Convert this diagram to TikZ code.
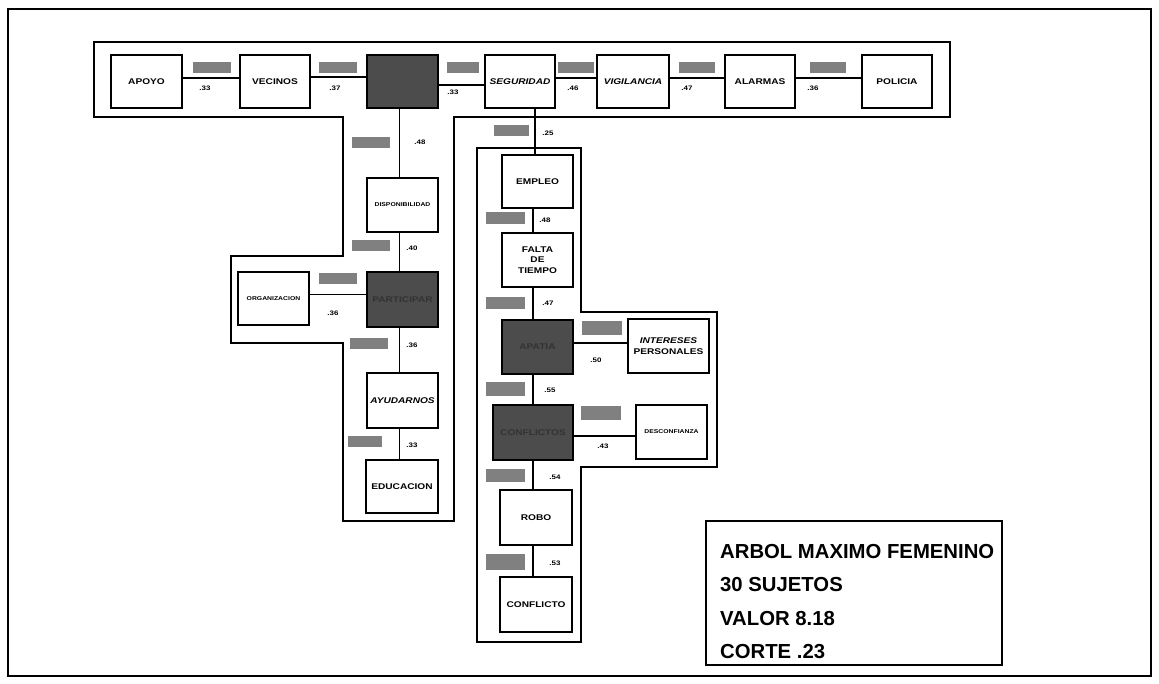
\documentclass[tikz,border=0pt]{standalone}
\usepackage{fontspec}
\setmainfont{Liberation Sans}
\newfontfamily\bx[FakeStretch=1.22]{Liberation Sans}
\begin{document}
\begin{tikzpicture}[x=1pt,y=-1pt,
  wbox/.style={draw,line width=1.4pt,fill=white,inner sep=1pt,align=center,
    minimum width=71pt,minimum height=53pt,
    font=\bx\bfseries\fontsize{8.3}{10.5}\selectfont},
  small/.style={font=\bx\bfseries\fontsize{5.6}{7}\selectfont},
  dbox/.style={wbox,fill=black!70,text=black!80},
  glab/.style={fill=black!50,minimum width=38pt,minimum height=11pt,inner sep=0pt},
  val/.style={font=\bx\bfseries\fontsize{6.5}{7}\selectfont,inner sep=0pt},
  encl/.style={line width=1.2pt},
  conn/.style={line width=1.1pt},
  legtxt/.style={font=\bfseries\fontsize{20.3}{22}\selectfont,anchor=west,inner sep=0pt}]

\useasboundingbox (0,0) rectangle (1159,683);
\draw[line width=1.4pt] (8,9) rectangle (1151,676);

% enclosures
\draw[encl] (94,42) -- (950,42) -- (950,117) -- (454,117) -- (454,521) -- (343,521)
  -- (343,343) -- (231,343) -- (231,256) -- (343,256) -- (343,117) -- (94,117) -- cycle;
\draw[encl] (477,148) -- (581,148) -- (581,312) -- (717,312) -- (717,467) -- (581,467)
  -- (581,642) -- (477,642) -- cycle;

% top row
\node[wbox] (apoyo) at (146.5,81.5) {APOYO};
\node[wbox,minimum width=70pt] (vecinos) at (275,81.5) {VECINOS};
\node[dbox] (topd) at (402.5,81.5) {};
\node[wbox,minimum width=70pt] (seg) at (520,81.5) {\itshape SEGURIDAD};
\node[wbox,minimum width=72pt] (vig) at (633,81.5) {\itshape VIGILANCIA};
\node[wbox,minimum width=70pt] (alar) at (760,81.5) {ALARMAS};
\node[wbox,minimum width=70pt] (pol) at (897,81.5) {POLICIA};

% left branch
\node[wbox,minimum height=54pt,small] (disp) at (402.5,205) {DISPONIBILIDAD};
\node[dbox,minimum height=55pt] (part) at (402.5,299.5) {PARTICIPAR};
\node[wbox,small] (org) at (273.5,298.5) {ORGANIZACION};
\node[wbox,minimum height=55pt] (ayu) at (402.5,400.5) {\itshape AYUDARNOS};
\node[wbox,minimum width=72pt] (edu) at (402,486.5) {EDUCACION};

% right branch
\node[wbox] (emp) at (537.5,181.5) {EMPLEO};
\node[wbox,minimum height=54pt] (falta) at (537.5,260) {FALTA\\DE\\TIEMPO};
\node[dbox,minimum height=54pt] (apat) at (537.5,347) {APATIA};
\node[wbox,minimum width=81pt,minimum height=54pt] (inter) at (668.5,346) {\itshape INTERESES\\PERSONALES};
\node[dbox,minimum width=80pt,minimum height=55pt] (confs) at (533,432.5) {CONFLICTOS};
\node[wbox,minimum height=54pt,small] (desc) at (671.5,432) {DESCONFIANZA};
\node[wbox,minimum width=72pt,minimum height=55pt] (robo) at (536,517.5) {ROBO};
\node[wbox,minimum width=72pt,minimum height=55pt] (confl) at (536,604.5) {CONFLICTO};

% connectors top row
\draw[conn] ([yshift=3.5pt]apoyo.east) -- ([yshift=3.5pt]vecinos.west);
\draw[conn] ([yshift=4.5pt]vecinos.east) -- ([yshift=4.5pt]topd.west);
\draw[conn] ([yshift=-3.5pt]topd.east) -- ([yshift=-3.5pt]seg.west);
\draw[conn] ([yshift=3.5pt]seg.east) -- ([yshift=3.5pt]vig.west);
\draw[conn] ([yshift=3.5pt]vig.east) -- ([yshift=3.5pt]alar.west);
\draw[conn] ([yshift=3.5pt]alar.east) -- ([yshift=3.5pt]pol.west);

% connectors left branch
\draw[conn] ([xshift=-3pt]topd.south) -- ([xshift=-3pt]disp.north);
\draw[conn] ([xshift=-3pt]disp.south) -- ([xshift=-3pt]part.north);
\draw[conn] ([xshift=-3pt]part.south) -- ([xshift=-3pt]ayu.north);
\draw[conn] ([xshift=-3pt]ayu.south) -- ([xshift=-3pt]ayu.south |- edu.north);
\draw[conn] ([yshift=4pt]org.east) -- ([yshift=4pt]org.east -| part.west);

% connectors right branch
\draw[conn] ([xshift=-2.5pt]emp.north |- seg.south) -- ([xshift=-2.5pt]emp.north);
\draw[conn] ([xshift=-4.5pt]emp.south) -- ([xshift=-4.5pt]falta.north);
\draw[conn] ([xshift=-4.5pt]falta.south) -- ([xshift=-4.5pt]apat.north);
\draw[conn] (confs.north |- apat.south) -- (confs.north);
\draw[conn] (confs.south) -- (confs.south |- robo.north);
\draw[conn] (confs.south |- robo.south) -- (confs.south |- confl.north);
\draw[conn] ([yshift=4pt]apat.east) -- ([yshift=4pt]apat.east -| inter.west);
\draw[conn] ([yshift=-3.5pt]confs.east) -- ([yshift=-3.5pt]confs.east -| desc.west);

% gray labels
\node[glab] (g1) at (212,67) {};
\node[glab] (g2) at (338,67) {};
\node[glab,minimum width=32pt] (g3) at (463,67) {};
\node[glab,minimum width=36pt] (g4) at (576,67) {};
\node[glab,minimum width=36pt] (g5) at (697,67) {};
\node[glab,minimum width=36pt] (g6) at (828,67) {};
\node[glab] (g7) at (371,142) {};
\node[glab] (g8) at (371,245) {};
\node[glab] (g9) at (338,278) {};
\node[glab] (g10) at (369,343) {};
\node[glab,minimum width=34pt] (g11) at (365,441) {};
\node[glab,minimum width=35pt] (g12) at (511,130) {};
\node[glab,minimum width=39pt,minimum height=12pt] (g13) at (505,218) {};
\node[glab,minimum width=39pt,minimum height=12pt] (g14) at (505,303) {};
\node[glab,minimum width=40pt,minimum height=14pt] (g15) at (602,328) {};
\node[glab,minimum width=39pt,minimum height=14pt] (g16) at (505,389) {};
\node[glab,minimum width=40pt,minimum height=14pt] (g17) at (601,413) {};
\node[glab,minimum width=39pt,minimum height=13pt] (g18) at (505,475) {};
\node[glab,minimum width=39pt,minimum height=16pt] (g19) at (505,562) {};

% values
\node[val] (v1) at (205,88) {.33};
\node[val] (v2) at (335,88) {.37};
\node[val] (v3) at (453,92) {.33};
\node[val] (v4) at (573,88) {.46};
\node[val] (v5) at (687,88) {.47};
\node[val] (v6) at (813,88) {.36};
\node[val] (v7) at (420,142) {.48};
\node[val] (v8) at (412,248) {.40};
\node[val] (v9) at (333,313) {.36};
\node[val] (v10) at (412,345) {.36};
\node[val] (v11) at (412,445) {.33};
\node[val] (v12) at (548,133) {.25};
\node[val] (v13) at (545,220) {.48};
\node[val] (v14) at (548,303) {.47};
\node[val] (v15) at (596,360) {.50};
\node[val] (v16) at (550,390) {.55};
\node[val] (v17) at (603,446) {.43};
\node[val] (v18) at (555,477) {.54};
\node[val] (v19) at (555,563) {.53};

% legend
\node[draw,line width=1.3pt,minimum width=296pt,minimum height=144pt,inner sep=0pt] (leg) at (854,593) {};
\node[legtxt] (l1) at (720,552) {ARBOL MAXIMO FEMENINO};
\node[legtxt] (l2) at (720,585) {30 SUJETOS};
\node[legtxt] (l3) at (720,619) {VALOR 8.18};
\node[legtxt] (l4) at (720,652) {CORTE .23};
\end{tikzpicture}
\end{document}
